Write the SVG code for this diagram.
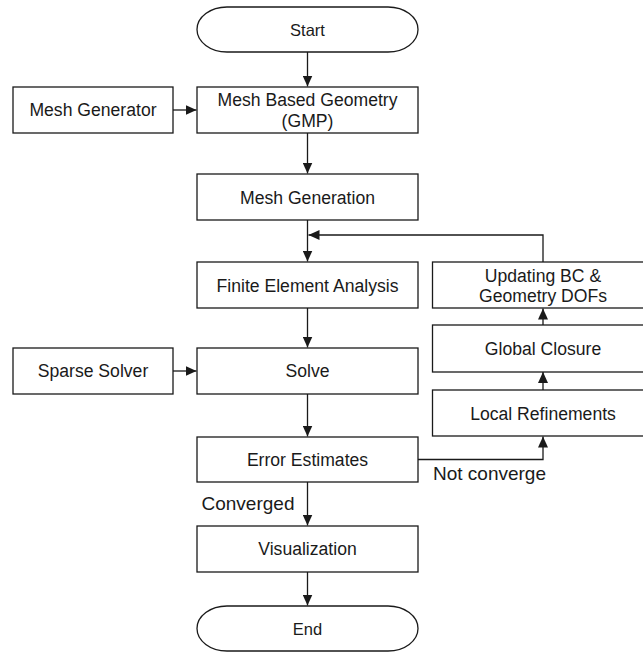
<svg xmlns="http://www.w3.org/2000/svg" width="643" height="652" viewBox="0 0 643 652">
  <style>
    .box { fill: #ffffff; stroke: #1a1a1a; stroke-width: 1.3; }
    .t { font-family: "Liberation Sans", Arial, Helvetica, sans-serif; font-size: 17.6px; fill: #1a1a1a; text-anchor: middle; }
    .term { font-size: 16.5px; }
    .lbl { font-family: "Liberation Sans", Arial, Helvetica, sans-serif; font-size: 19px; fill: #1a1a1a; }
    .wire { fill: none; stroke: #1a1a1a; stroke-width: 1.3; }
  </style>
  <defs>
    <marker id="arrow" markerUnits="userSpaceOnUse" markerWidth="12" markerHeight="10" refX="11" refY="5" orient="auto">
      <path d="M0,0 L11,5 L0,10 z" fill="#1a1a1a"/>
    </marker>
  </defs>
  <rect width="643" height="652" fill="#ffffff"/>

  <!-- connectors -->
  <g id="connectors">
    <path class="wire" d="M307.5,52 V86.5" marker-end="url(#arrow)"/>
    <path class="wire" d="M173,110 H196.5" marker-end="url(#arrow)"/>
    <path class="wire" d="M307.5,133 V173.5" marker-end="url(#arrow)"/>
    <path class="wire" d="M307.5,220 V261.5" marker-end="url(#arrow)"/>
    <path class="wire" d="M307.5,308 V347.5" marker-end="url(#arrow)"/>
    <path class="wire" d="M173,371 H196.5" marker-end="url(#arrow)"/>
    <path class="wire" d="M307.5,394 V436.5" marker-end="url(#arrow)"/>
    <path class="wire" d="M307.5,482 V525.5" marker-end="url(#arrow)"/>
    <path class="wire" d="M307.5,572 V605.5" marker-end="url(#arrow)"/>
    <!-- refinement loop -->
    <path class="wire" d="M418,459.5 H543 V436.5" marker-end="url(#arrow)"/>
    <path class="wire" d="M543,390 V372" marker-end="url(#arrow)"/>
    <path class="wire" d="M543,325 V308.5" marker-end="url(#arrow)"/>
    <path class="wire" d="M543,262 V235 H308.5" marker-end="url(#arrow)"/>
    <text class="lbl" x="201.5" y="510">Converged</text>
    <text class="lbl" x="433" y="480">Not converge</text>
  </g>

  <g id="start">
    <rect class="box" x="197" y="7" width="221" height="45" rx="30" ry="22.5"/>
    <text class="t term" x="307.5" y="35.5">Start</text>
  </g>
  <g id="mesh-generator">
    <rect class="box" x="13" y="87" width="160" height="46"/>
    <text class="t" x="93" y="116.3">Mesh Generator</text>
  </g>
  <g id="mesh-based-geometry">
    <rect class="box" x="197" y="87" width="221" height="46"/>
    <text class="t" x="307.5" y="106">Mesh Based Geometry</text>
    <text class="t" x="307.5" y="127.3">(GMP)</text>
  </g>
  <g id="mesh-generation">
    <rect class="box" x="197" y="174" width="221" height="46"/>
    <text class="t" x="307.5" y="203.5">Mesh Generation</text>
  </g>
  <g id="finite-element-analysis">
    <rect class="box" x="197" y="262" width="221" height="46"/>
    <text class="t" x="307.5" y="291.5">Finite Element Analysis</text>
  </g>
  <g id="sparse-solver">
    <rect class="box" x="13" y="348" width="160" height="46"/>
    <text class="t" x="93" y="377.3">Sparse Solver</text>
  </g>
  <g id="solve">
    <rect class="box" x="197" y="348" width="221" height="46"/>
    <text class="t" x="307.5" y="377.3">Solve</text>
  </g>
  <g id="error-estimates">
    <rect class="box" x="197" y="437" width="221" height="45"/>
    <text class="t" x="307.5" y="465.8">Error Estimates</text>
  </g>
  <g id="visualization">
    <rect class="box" x="197" y="526" width="221" height="46"/>
    <text class="t" x="307.5" y="555.3">Visualization</text>
  </g>
  <g id="end">
    <rect class="box" x="197" y="606" width="221" height="45" rx="30" ry="22.5"/>
    <text class="t term" x="307.5" y="634.5">End</text>
  </g>
  <g id="updating-bc">
    <rect class="box" x="432.5" y="262" width="221" height="46"/>
    <text class="t" x="543" y="281.5">Updating BC &amp;</text>
    <text class="t" x="543" y="302">Geometry DOFs</text>
  </g>
  <g id="global-closure">
    <rect class="box" x="432.5" y="325" width="221" height="47"/>
    <text class="t" x="543" y="355">Global Closure</text>
  </g>
  <g id="local-refinements">
    <rect class="box" x="432.5" y="390" width="221" height="46"/>
    <text class="t" x="543" y="419.5">Local Refinements</text>
  </g>
</svg>
